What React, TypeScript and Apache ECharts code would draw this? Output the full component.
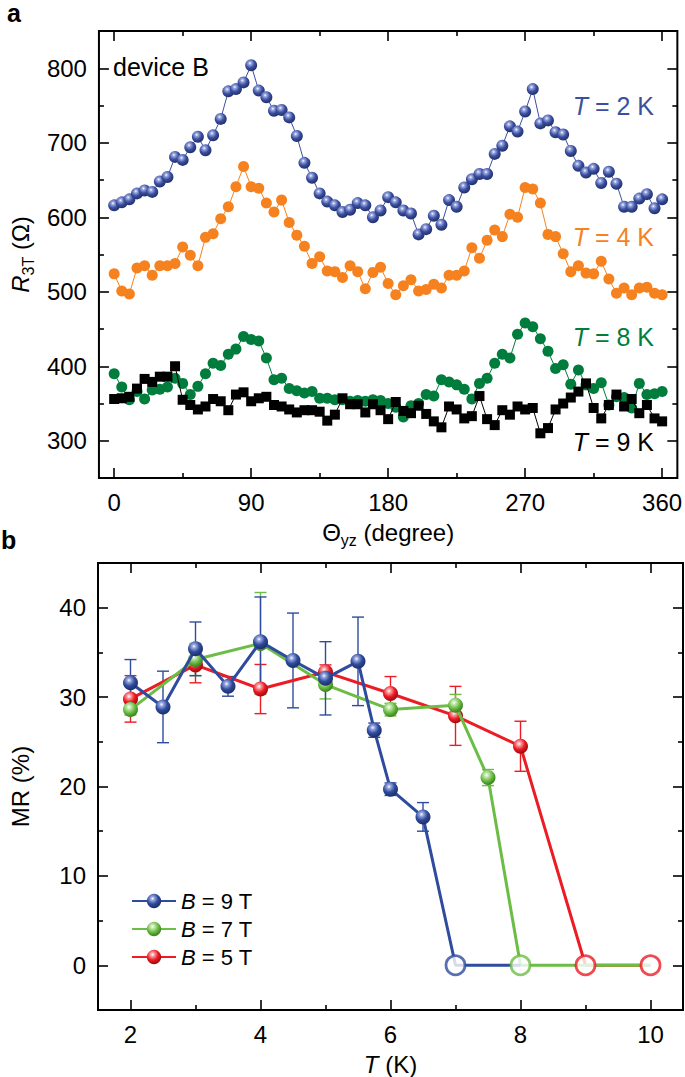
import React, { useEffect, useRef } from "react";
import * as echarts from "echarts";

const FONT = "'Liberation Sans', Arial, Helvetica, sans-serif";

// ---------- Panel a: R3T vs angle ----------
const anglesDeg = [
  0, 5, 10, 15, 20, 25, 30, 35, 40, 45, 50, 55, 60, 65, 70, 75, 80, 85, 90, 95,
  100, 105, 110, 115, 120, 125, 130, 135, 140, 145, 150, 155, 160, 165, 170, 175,
  180, 185, 190, 195, 200, 205, 210, 215, 220, 225, 230, 235, 240, 245, 250, 255,
  260, 265, 270, 275, 280, 285, 290, 295, 300, 305, 310, 315, 320, 325, 330, 335,
  340, 345, 350, 355, 360,
];
const r3t2K = [
  616, 620, 624, 632, 636, 634, 648, 654, 681, 677,
  694, 708, 690, 710, 732, 769, 772, 781, 804, 770,
  761, 743, 744, 734, 709, 673, 653, 632, 621, 616,
  607, 610, 619, 616, 600, 609, 627, 620, 609, 605,
  577, 584, 602, 590, 623, 614, 640, 651, 658, 658,
  685, 696, 722, 715, 742, 772, 726, 730, 714, 711,
  689, 669, 660, 665, 646, 661, 645, 614, 614, 625,
  631, 612, 624,
];
const r3t4K = [
  524, 501, 497, 532, 535, 522, 535, 535, 538, 560,
  549, 535, 573, 578, 598, 614, 641, 668, 641, 639,
  619, 607, 623, 593, 576, 561, 538, 547, 528, 527,
  519, 535, 527, 504, 526, 533, 511, 496, 508, 516,
  501, 503, 510, 505, 522, 522, 528, 559, 545, 569,
  583, 574, 604, 600, 640, 638, 619, 577, 574, 551,
  527, 535, 525, 524, 541, 517, 498, 505, 496, 505,
  506, 498, 496,
];
const r3t8K = [
  390, 372, 355, 366, 356, 368, 369, 372, 384, 377,
  362, 373, 390, 404, 401, 416, 423, 440, 436, 434,
  411, 382, 384, 370, 367, 364, 366, 357, 357, 355,
  355, 353, 354, 353, 355, 354, 350, 345, 332, 347,
  350, 362, 360, 382, 379, 375, 369, 356, 377, 384,
  404, 416, 411, 443, 458, 453, 437, 420, 397, 402,
  376, 395, 375, 370, 378, 348, 359, 358, 344, 377,
  362, 363, 366,
];
const r3t9K = [
  356, 357, 359, 370, 383, 379, 386, 386, 400, 355,
  348, 342, 346, 356, 353, 341, 362, 365, 353, 357,
  359, 348, 346, 342, 338, 341, 341, 339, 327, 335,
  357, 349, 349, 338, 349, 341, 329, 352, 340, 337,
  347, 336, 326, 318, 346, 342, 330, 333, 360, 329,
  321, 341, 335, 346, 342, 344, 310, 317, 342, 350,
  358, 366, 377, 344, 330, 348, 362, 346, 356, 337,
  348, 330, 326,
];
const angleMajorTicks = [0, 90, 180, 270, 360];
const angleMinorTicks = [45, 135, 225, 315];
const resMajorTicks = [300, 400, 500, 600, 700, 800];
const resMinorTicks = [350, 450, 550, 650, 750];

// ---------- Panel b: MR vs T ----------
const temps9T = [2, 2.5, 3, 3.5, 4, 4.5, 5, 5.5, 5.75, 6, 6.5];
const mr9T = [31.6, 28.9, 35.4, 31.2, 36.2, 34.1, 32.1, 34.0, 26.3, 19.7, 16.6];
const err9T = [2.6, 4.0, 3.0, 1.1, 5.0, 5.3, 4.1, 4.95, 0.8, 0.7, 1.6];
const zero9T = [7, 8];

const temps7T = [2, 3, 4, 5, 6, 7, 7.5];
const mr7T = [28.6, 34.2, 36.0, 31.4, 28.6, 29.1, 21.0];
const err7T = [0.6, 1.8, 5.7, 1.6, 0.7, 1.2, 0.9];
const zero7T = [8, 9, 10];

const temps5T = [2, 3, 4, 5, 6, 7, 8];
const mr5T = [29.8, 33.6, 30.9, 32.8, 30.4, 27.9, 24.5];
const err5T = [2.6, 2.0, 2.75, 0.8, 1.9, 3.3, 2.8];
const zero5T = [9, 10];

const openCircleT = [7, 8, 9, 10];
const openCircleField = ["9T", "7T", "5T", "5T"];

const tMajorTicks = [2, 4, 6, 8, 10];
const tMinorTicks = [3, 5, 7, 9];
const mrMajorTicks = [0, 10, 20, 30, 40];
const mrMinorTicks = [5, 15, 25, 35];

// ---------- colours ----------
const C2K = "#3b4fa1";
const C4K = "#f5821f";
const C8K = "#007d3d";
const C9K = "#000000";
const C9T = "#2e4b9d";
const C7T = "#6cbd45";
const C5T = "#ec1c24";
const fieldColor: Record<string, string> = { "9T": C9T, "7T": C7T, "5T": C5T };

function ball(light: string, base: string, dark: string) {
  return new echarts.graphic.RadialGradient(0.4, 0.33, 0.62, [
    { offset: 0, color: "#ffffff" },
    { offset: 0.2, color: light },
    { offset: 0.62, color: base },
    { offset: 1, color: dark },
  ]);
}

const nameRich = {
  t: { fontSize: 24, fontFamily: FONT, color: "#000", lineHeight: 32 },
  i: { fontSize: 24, fontFamily: FONT, color: "#000", lineHeight: 32, fontStyle: "italic" },
  s: { fontSize: 16, fontFamily: FONT, color: "#000", lineHeight: 16, verticalAlign: "bottom" },
};

function axisGroup(
  kind: "x" | "y",
  gridIndex: number,
  min: number,
  max: number,
  major: number[],
  minor: number[],
  name: string,
) {
  const sideA = kind === "x" ? "bottom" : "left";
  const sideB = kind === "x" ? "top" : "right";
  const base = {
    type: "value",
    gridIndex,
    min,
    max,
    axisLine: { show: false, onZero: false },
    splitLine: { show: false },
    minorTick: { show: false },
  };
  const tickStyle = { color: "#000", width: 1.6 };
  const mk = (pos: string, vals: number[], len: number, withLabel: boolean) => ({
    ...base,
    position: pos,
    axisTick: { show: true, inside: true, length: len, customValues: vals, lineStyle: tickStyle },
    axisLabel: withLabel
      ? { show: true, customValues: vals, fontSize: 24, fontFamily: FONT, color: "#000", margin: 12 }
      : { show: false },
  });
  const main: any = mk(sideA, major, 10, true);
  main.name = name;
  main.nameLocation = "middle";
  main.nameGap = kind === "x" ? 38 : 62;
  main.nameTextStyle = { rich: nameRich };
  return [main, mk(sideA, minor, 5, false), mk(sideB, major, 10, false), mk(sideB, minor, 5, false)];
}

function errorBarSeries(temps: number[], vals: number[], errs: number[], color: string) {
  return {
    type: "custom",
    xAxisIndex: 4,
    yAxisIndex: 4,
    z: 1,
    silent: true,
    data: temps.map((t, i) => [t, vals[i], errs[i]]),
    encode: { x: 0, y: 1 },
    renderItem: (_params: any, api: any) => {
      const x = api.value(0);
      const y = api.value(1);
      const e = api.value(2);
      const top = api.coord([x, y + e]);
      const bot = api.coord([x, y - e]);
      const hw = 6;
      const style = { stroke: color, lineWidth: 1.4 };
      return {
        type: "group",
        children: [
          { type: "line", shape: { x1: top[0], y1: top[1], x2: bot[0], y2: bot[1] }, style },
          { type: "line", shape: { x1: top[0] - hw, y1: top[1], x2: top[0] + hw, y2: top[1] }, style },
          { type: "line", shape: { x1: bot[0] - hw, y1: bot[1], x2: bot[0] + hw, y2: bot[1] }, style },
        ],
      };
    },
  };
}

function mrLineSeries(name: string, temps: number[], vals: number[], zeros: number[], color: string, fill: any, z: number) {
  return {
    type: "line",
    name,
    xAxisIndex: 4,
    yAxisIndex: 4,
    z,
    symbol: "circle",
    symbolSize: 15,
    showSymbol: true,
    lineStyle: { color, width: 3 },
    itemStyle: { color: fill, borderWidth: 0 },
    data: [
      ...temps.map((t, i) => [t, vals[i]]),
      ...zeros.map((t) => ({ value: [t, 0], symbol: "none" })),
    ],
  };
}

function angleSeries(vals: number[], color: string, fill: any, symbol: string, size: number, z: number) {
  return {
    type: "line",
    xAxisIndex: 0,
    yAxisIndex: 0,
    z,
    symbol,
    symbolSize: size,
    showSymbol: true,
    lineStyle: { color, width: 1 },
    itemStyle: { color: fill, borderWidth: 0 },
    data: anglesDeg.map((a, i) => [a, vals[i]]),
  };
}

function tLabel(text: string, color: string, y: number) {
  return {
    type: "text",
    x: 654,
    y,
    style: {
      text,
      align: "right",
      verticalAlign: "middle",
      fontSize: 25,
      fontFamily: FONT,
      fill: color,
      rich: {
        i: { fontSize: 25, fontFamily: FONT, fontStyle: "italic", fill: color, color },
        n: { fontSize: 25, fontFamily: FONT, fill: color, color },
      },
    },
  };
}

export default function App() {
  const ref = useRef<HTMLDivElement>(null);
  useEffect(() => {
    if (!ref.current) return;
    const chart = echarts.init(ref.current, undefined, { renderer: "svg" });

    const xA = axisGroup("x", 0, -10, 370, angleMajorTicks, angleMinorTicks, "{t|Θ}{s|yz}{t| (degree)}");
    const yA = axisGroup("y", 0, 250, 850, resMajorTicks, resMinorTicks, "{i|R}{s|3T}{t| (Ω)}");
    const xB = axisGroup("x", 1, 1.5, 10.5, tMajorTicks, tMinorTicks, "{i|T}{t| (K)}");
    const yB = axisGroup("y", 1, -5, 45, mrMajorTicks, mrMinorTicks, "{t|MR (%)}");

    const option: any = {
      animation: false,
      textStyle: { fontFamily: FONT },
      grid: [
        { left: 93, right: 2, top: 31, height: 447, show: true, borderColor: "#000", borderWidth: 2, backgroundColor: "transparent" },
        { left: 93, right: 2, top: 563, height: 447, show: true, borderColor: "#000", borderWidth: 2, backgroundColor: "transparent" },
      ],
      xAxis: [...xA, ...xB],
      yAxis: [...yA, ...yB],
      legend: {
        show: true,
        orient: "vertical",
        left: 126,
        top: 885,
        itemWidth: 44,
        itemHeight: 18,
        itemGap: 6,
        selectedMode: false,
        data: ["B = 9 T", "B = 7 T", "B = 5 T"],
        formatter: (n: string) => n.replace("B", "{i|B}"),
        textStyle: {
          fontSize: 22,
          fontFamily: FONT,
          color: "#000",
          rich: { i: { fontSize: 22, fontFamily: FONT, color: "#000", fontStyle: "italic" } },
        },
      },
      graphic: [
        { type: "text", left: 7, top: 0, style: { text: "a", fontSize: 25, fontWeight: "bold", fontFamily: FONT, fill: "#000" } },
        { type: "text", left: 1, top: 527, style: { text: "b", fontSize: 25, fontWeight: "bold", fontFamily: FONT, fill: "#000" } },
        { type: "text", x: 113, y: 67, style: { text: "device B", fontSize: 25, fontFamily: FONT, fill: "#000", verticalAlign: "middle" } },
        tLabel("{i|T}{n| = 2 K}", C2K, 106),
        tLabel("{i|T}{n| = 4 K}", C4K, 237),
        tLabel("{i|T}{n| = 8 K}", C8K, 337),
        tLabel("{i|T}{n| = 9 K}", C9K, 442),
      ],
      series: [
        angleSeries(r3t2K, C2K, ball("#9aa8e0", C2K, "#25346f"), "circle", 12, 3),
        angleSeries(r3t4K, C4K, C4K, "circle", 11, 3),
        angleSeries(r3t8K, C8K, C8K, "circle", 11, 2),
        angleSeries(r3t9K, C9K, C9K, "rect", 10, 4),
        errorBarSeries(temps5T, mr5T, err5T, C5T),
        errorBarSeries(temps7T, mr7T, err7T, C7T),
        errorBarSeries(temps9T, mr9T, err9T, C9T),
        mrLineSeries("B = 5 T", temps5T, mr5T, zero5T, C5T, ball("#f8a5a8", C5T, "#a80d13"), 2),
        mrLineSeries("B = 7 T", temps7T, mr7T, zero7T, C7T, ball("#c8eab5", C7T, "#3f8a22"), 3),
        mrLineSeries("B = 9 T", temps9T, mr9T, zero9T, C9T, ball("#9aa8e0", C9T, "#1f3370"), 4),
        {
          type: "scatter",
          name: "zero",
          xAxisIndex: 4,
          yAxisIndex: 4,
          z: 6,
          symbol: "circle",
          symbolSize: 19,
          data: openCircleT.map((t, i) => ({
            value: [t, 0],
            itemStyle: { color: "#ffffff", borderColor: fieldColor[openCircleField[i]], borderWidth: 2.8 },
          })),
        },
      ],
    };
    chart.setOption(option);
    return () => chart.dispose();
  }, []);
  return <div ref={ref} style={{ position: "absolute", left: 0, top: 0, width: 685, height: 1077 }} />;
}
